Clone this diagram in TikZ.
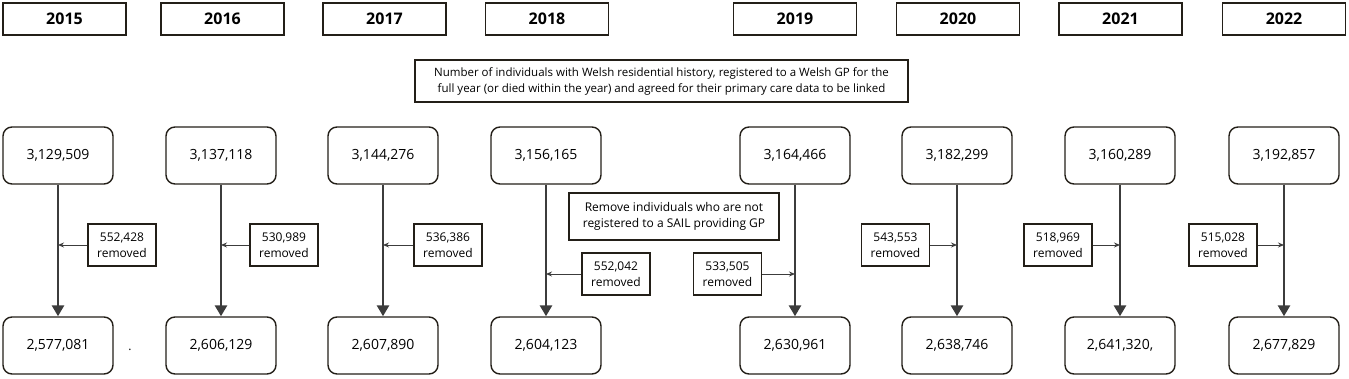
\documentclass[tikz,border=0pt]{standalone}
\usepackage{fontspec}
\setmainfont{Open Sans}
\usetikzlibrary{arrows.meta,calc}
\definecolor{edge}{HTML}{231F18}
\definecolor{flow}{HTML}{3C3C3C}

\begin{document}
\begin{tikzpicture}[x=1pt, y=1pt,
  yr/.style={draw=edge, line width=1.4pt, minimum width=123pt, minimum height=32pt,
             inner sep=0pt, font=\fontsize{16}{19}\selectfont\bfseries},
  cnt/.style={draw=edge, line width=1.4pt, rounded corners=9pt, minimum width=110pt,
              minimum height=57pt, inner sep=0pt, font=\fontsize{14}{17}\selectfont},
  rm/.style={draw=edge, line width=1.4pt, minimum width=68pt, minimum height=42pt,
             inner sep=0pt, align=center, font=\fontsize{12}{16}\selectfont},
  note/.style={draw=edge, line width=1.4pt, inner sep=0pt, align=center,
               font=\fontsize{11.5}{16}\selectfont},
  main/.style={-{Triangle[length=11pt, width=12pt]}, line width=2.8pt, draw=flow},
  side/.style={-{Stealth[length=6pt, width=5pt]}, line width=0.9pt, draw=flow}]
  \useasboundingbox (0,0) rectangle (1349,378);
  % year headers
  \node[yr] (y15) at (64.5,359) {2015};
  \node[yr] (y16) at (222.5,359) {2016};
  \node[yr] (y17) at (384.5,359) {2017};
  \node[yr] (y18) at (547,359) {2018};
  \node[yr] (y19) at (795,359) {2019};
  \node[yr] (y20) at (958,359) {2020};
  \node[yr] (y21) at (1120.5,359) {2021};
  \node[yr] (y22) at (1284,359) {2022};
  % explanatory notes
  \node[note, minimum width=493pt, minimum height=42pt] (inc) at (661.5,297)
    {Number of individuals with Welsh residential history, registered to a Welsh GP for the\\
     full year (or died within the year) and agreed for their primary care data to be linked};
  \node[note, minimum width=210pt, minimum height=47pt, font=\fontsize{12}{16}\selectfont] (exc) at (674,161.5)
    {Remove individuals who are not\\ registered to a SAIL providing GP};
  % starting counts
  \node[cnt] (s15) at (58,222.5) {3,129,509};
  \node[cnt] (s16) at (221,222.5) {3,137,118};
  \node[cnt] (s17) at (383,222.5) {3,144,276};
  \node[cnt] (s18) at (546,222.5) {3,156,165};
  \node[cnt] (s19) at (795,222.5) {3,164,466};
  \node[cnt] (s20) at (957,222.5) {3,182,299};
  \node[cnt] (s21) at (1120,222.5) {3,160,289};
  \node[cnt] (s22) at (1284,222.5) {3,192,857};
  % final counts
  \node[cnt] (f15) at (58,32.5) {2,577,081};
  \node[cnt] (f16) at (221,32.5) {2,606,129};
  \node[cnt] (f17) at (383,32.5) {2,607,890};
  \node[cnt] (f18) at (546,32.5) {2,604,123};
  \node[cnt] (f19) at (795,32.5) {2,630,961};
  \node[cnt] (f20) at (957,32.5) {2,638,746};
  \node[cnt] (f21) at (1120,32.5) {2,641,320,};
  \node[cnt] (f22) at (1284,32.5) {2,677,829};
  \node[font=\fontsize{12}{14}\selectfont, inner sep=0pt] (dot) at (130,28) {.};
  % removed
  \node[rm] (r15) at (122,133) {552,428\\ removed};
  \node[rm] (r16) at (284,133) {530,989\\ removed};
  \node[rm] (r17) at (448,133) {536,386\\ removed};
  \node[rm] (r18) at (616,104) {552,042\\ removed};
  \node[rm] (r19) at (727.5,104) {533,505\\ removed};
  \node[rm] (r20) at (895.5,133) {543,553\\ removed};
  \node[rm] (r21) at (1058,133) {518,969\\ removed};
  \node[rm] (r22) at (1223,133) {515,028\\ removed};
  % flow
  \draw[main] (s15) -- (f15);
  \draw[main] (s16) -- (f16);
  \draw[main] (s17) -- (f17);
  \draw[main] (s18) -- (f18);
  \draw[main] (s19) -- (f19);
  \draw[main] (s20) -- (f20);
  \draw[main] (s21) -- (f21);
  \draw[main] (s22) -- (f22);
  \draw[side] (r15.west) -- (s15 |- r15.west);
  \draw[side] (r16.west) -- (s16 |- r16.west);
  \draw[side] (r17.west) -- (s17 |- r17.west);
  \draw[side] (r18.west) -- (s18 |- r18.west);
  \draw[side] (r19.east) -- (s19 |- r19.east);
  \draw[side] (r20.east) -- (s20 |- r20.east);
  \draw[side] (r21.east) -- (s21 |- r21.east);
  \draw[side] (r22.east) -- (s22 |- r22.east);
\end{tikzpicture}
\end{document}
